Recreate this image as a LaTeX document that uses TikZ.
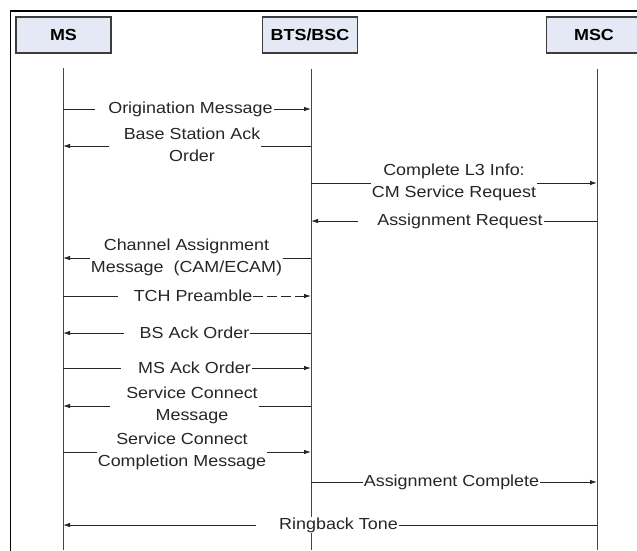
\documentclass[tikz,border=0pt]{standalone}
\usepackage{fontspec}
\setmainfont{Liberation Sans}[FakeStretch=1.12]
\usetikzlibrary{arrows.meta}
\definecolor{boxfill}{RGB}{228,233,245}
\definecolor{boxline}{RGB}{60,60,60}
\definecolor{lifecol}{RGB}{70,70,70}
\tikzset{
  actor/.style={draw=boxline, line width=1.1pt, fill=boxfill, minimum width=95pt, minimum height=36pt, inner sep=0pt, font=\fontsize{16}{20}\selectfont\bfseries},
  lifeline/.style={draw=lifecol, line width=0.9pt},
  msg/.style={draw=black!85, line width=0.9pt},
  msgtip/.style={msg, -{Latex[length=7pt,width=4.5pt]}},
  lbl/.style={fill=white, inner xsep=1pt, inner ysep=1pt, align=center, text=black!85, font=\fontsize{16}{22}\selectfont}
}
\newcommand{\gapleft}[2]{\fill[white] ([xshift=-#2pt]#1.south west) rectangle (#1.north west);}
\begin{document}
\begin{tikzpicture}[x=1pt,y=-1pt]
\useasboundingbox (0,0) rectangle (637,550);
\clip (0,0) rectangle (637,550);
\fill[white] (0,0) rectangle (637,550);
% frame
\draw[black, line width=1.5pt] (10.5,600) -- (10.5,11) -- (700,11);
% actors
\node[actor] (ms) at (63.5,35) {MS};
\node[actor] (bts) at (310,35) {BTS/BSC};
\node[actor] (msc) at (594,35) {MSC};
% lifelines
\coordinate (msT) at (63,68);  \coordinate (msB) at (63,550);
\coordinate (btsT) at (311,69); \coordinate (btsB) at (311,550);
\coordinate (mscT) at (597,69); \coordinate (mscB) at (597,550);
\draw[lifeline] (msT) -- (msB);
\draw[lifeline] (btsT) -- (btsB);
\draw[lifeline] (mscT) -- (mscB);
% message levels
\coordinate (y1) at (0,109);
\coordinate (y2) at (0,146);
\coordinate (y3) at (0,183);
\coordinate (y4) at (0,221);
\coordinate (y5) at (0,258);
\coordinate (y6) at (0,296);
\coordinate (y7) at (0,333);
\coordinate (y8) at (0,368);
\coordinate (y9) at (0,406);
\coordinate (y10) at (0,452);
\coordinate (y11) at (0,482);
\coordinate (y12) at (0,525);
% messages
\draw[msgtip] (msT |- y1) -- (btsT |- y1);
\draw[msgtip] (btsT |- y2) -- (msT |- y2);
\draw[msgtip] (btsT |- y3) -- (mscT |- y3);
\draw[msgtip] (mscT |- y4) -- (btsT |- y4);
\draw[msgtip] (btsT |- y5) -- (msT |- y5);
\node[lbl] (l6) at (193,296) {TCH Preamble};
\draw[msg] (msT |- y6) -- (l6.west);
\draw[msgtip, dash pattern=on 10pt off 4pt] (l6.east) -- (btsT |- y6);
\draw[msgtip] (btsT |- y7) -- (msT |- y7);
\draw[msgtip] (msT |- y8) -- (btsT |- y8);
\draw[msgtip] (btsT |- y9) -- (msT |- y9);
\draw[msgtip] (msT |- y10) -- (btsT |- y10);
\draw[msgtip] (btsT |- y11) -- (mscT |- y11);
\draw[msgtip] (mscT |- y12) -- (msT |- y12);
% labels
\node[lbl] (l1) at (190.5,109) {Origination Message};
\node[lbl] (l2) at (192,145) {Base Station Ack\\Order};
\node[lbl] (l3) at (454,182) {Complete L3 Info:\\CM Service Request};
\node[lbl] (l4) at (460,221) {Assignment Request};
\node[lbl] (l5) at (186.5,257) {Channel Assignment\\Message\ \ (CAM/ECAM)};
\node[lbl] (l7) at (194.5,333) {BS Ack Order};
\node[lbl] (l8) at (194.5,368) {MS Ack Order};
\node[lbl] (l9) at (192,405) {Service Connect\\Message};
\node[lbl] (l10) at (182,451) {Service Connect\\Completion Message};
\node[lbl] (l11) at (451.5,482) {Assignment Complete};
\node[lbl] (l12) at (338.5,525) {Ringback Tone};
% blank space left of labels
\gapleft{l1}{12}
\gapleft{l2}{14}
\gapleft{l4}{18}
\gapleft{l6}{15}
\gapleft{l7}{15}
\gapleft{l8}{16}
\gapleft{l9}{15}
\gapleft{l12}{22}
\end{tikzpicture}
\end{document}
